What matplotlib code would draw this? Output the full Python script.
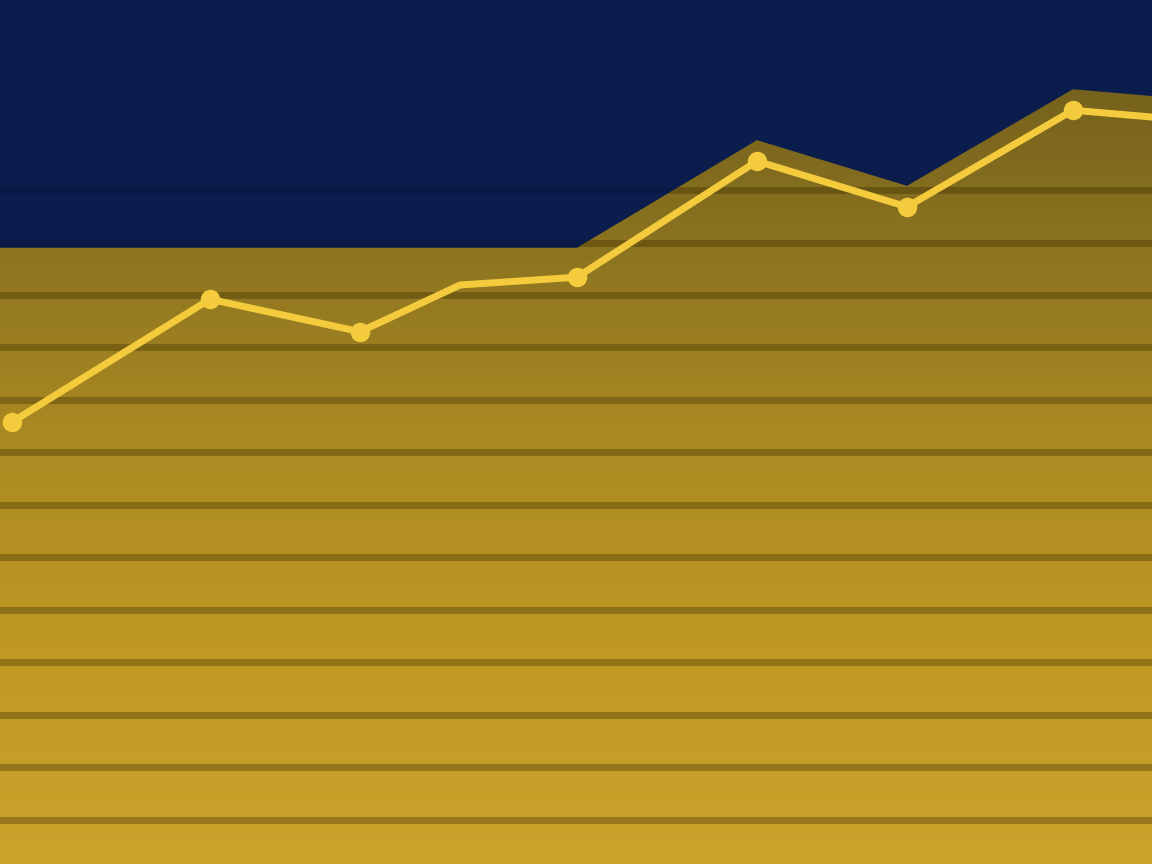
import numpy as np
import matplotlib
matplotlib.use('Agg')
import matplotlib.pyplot as plt
from matplotlib.colors import LinearSegmentedColormap

# data
x_pos = [0.12, 2.1, 3.6, 4.6, 5.77, 7.57, 9.07, 10.73, 11.52]
values = [8.58, 10.92, 10.30, 11.19, 11.34, 13.55, 12.68, 14.52, 14.39]
marked = [True, True, True, False, True, True, True, True, False]
floor_level = 11.9
grid_levels = list(range(1, 14))

bg = '#0b1d4d'
line_col = '#f5cb3e'

fig = plt.figure(figsize=(11.52, 8.64), dpi=100)
ax = fig.add_axes([0, 0, 1, 1])
ax.set_facecolor(bg)
fig.patch.set_facecolor(bg)
ax.set_xlim(0, 11.52)
ax.set_ylim(0.16, 16.62)

# area: line plus a soft rim, never lower than the flat band
xx = np.array(x_pos)
yy = np.array(values)
xs = np.concatenate([[0], xx])
ys = np.concatenate([[yy[0]], yy])
top = np.maximum(ys + 0.4, floor_level)
area = ax.fill_between(xs, 0, top, color='none', lw=0)
path = area.get_paths()[0]

cmap = LinearSegmentedColormap.from_list(
    'gold', ['#cba32b', '#bf9924', '#aa8922', '#87701f', '#6c591c'])
grad = np.linspace(0, 1, 256).reshape(-1, 1)
img = ax.imshow(grad, extent=[0, 11.52, 0.16, 16.62], origin='lower', cmap=cmap,
                aspect='auto', zorder=1)
img.set_clip_path(path, transform=ax.transData)

# dark stripes, mostly inside the gold
for g in grid_levels:
    ln = ax.axhline(g, color='#3a2a00', alpha=0.35, lw=5, zorder=2)
    ln.set_clip_path(path, transform=ax.transData)
    ax.axhline(g, color='black', alpha=0.08, lw=5, zorder=0.5)

# line and dots
ax.plot(xx, yy, color=line_col, lw=5, zorder=3, solid_capstyle='round')
ax.plot(xx[marked], yy[marked], 'o', color=line_col, ms=13, zorder=4)

ax.axis('off')
fig.savefig('out.png', dpi=100, facecolor=bg)
